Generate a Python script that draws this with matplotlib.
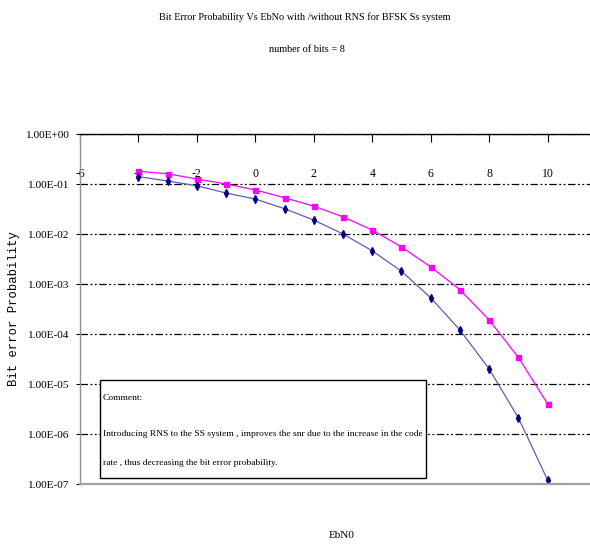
import numpy as np
import matplotlib
matplotlib.use('Agg')
import matplotlib.pyplot as plt
from matplotlib.ticker import FixedLocator, FuncFormatter, NullLocator
from matplotlib.patches import Rectangle

# ── Data ──────────────────────────────────────────────────────────────────────
ebno = [-4, -3, -2, -1, 0, 1, 2, 3, 4, 5, 6, 7, 8, 9, 10]
ber_with_rns = [0.14, 0.115, 0.092, 0.066, 0.050, 0.032, 0.019, 0.010,
                0.0046, 0.0018, 5.3e-4, 1.2e-4, 2.0e-5, 2.1e-6, 1.2e-7]
ber_without_rns = [0.18, 0.16, 0.126, 0.10, 0.076, 0.053, 0.036, 0.022,
                   0.012, 0.0055, 2.2e-3, 7.7e-4, 1.9e-4, 3.4e-5, 4.0e-6]
x_ticks = [-6, -4, -2, 0, 2, 4, 6, 8, 10]
y_ticks = [1e0, 1e-1, 1e-2, 1e-3, 1e-4, 1e-5, 1e-6, 1e-7]

TITLE = 'Bit Error Probability Vs EbNo with /without RNS for BFSK Ss system'
SUBTITLE = 'number of bits = 8'
COMMENT_HEAD = 'Comment:'
COMMENT_BODY = ['Introducing RNS to the SS system , improves the snr due to the increase in the code',
                'rate , thus decreasing the bit error probability.']

SERIF = 'Liberation Serif'

# ── Plot ──────────────────────────────────────────────────────────────────────
fig = plt.figure(figsize=(5.90, 5.44), dpi=100)
ax = fig.add_axes([80/590, 1-484/544, 510/590, 350/544])

ax.plot(ebno, ber_without_rns, color='#ff00ff', lw=0.9, marker='s',
        markersize=3.6, markerfacecolor='#ff00ff', markeredgecolor='#ff00ff')
ax.plot(ebno, ber_with_rns, color='#5c5cb8', lw=0.9, marker='d',
        markersize=4.2, markerfacecolor='#000080', markeredgecolor='#000080')

ax.set_yscale('log')
ax.set_ylim(1e-7, 1e0)
ax.set_xlim(-6, 11.45)

ax.yaxis.set_major_locator(FixedLocator(y_ticks))
ax.yaxis.set_minor_locator(NullLocator())
ax.yaxis.set_major_formatter(FuncFormatter(lambda v, p: f'{v:.2E}'))
ax.xaxis.set_major_locator(FixedLocator(x_ticks))
ax.xaxis.set_major_formatter(FuncFormatter(lambda v, p: f'{v:g}'))

ax.grid(axis='y', color='black', lw=0.9, linestyle=(0, (6, 2, 1.5, 2, 1.5, 2)))

ax.spines['right'].set_visible(False)
ax.spines['top'].set_color('black')
ax.spines['top'].set_linewidth(1.0)
ax.spines['left'].set_color('#909090')
ax.spines['left'].set_linewidth(1.0)
ax.spines['bottom'].set_color('#a0a0a0')
ax.spines['bottom'].set_linewidth(1.6)

ax.tick_params(axis='x', top=True, bottom=False, labeltop=True, labelbottom=False,
               direction='in', length=6, width=0.8, pad=-33, labelsize=8.5)
ax.tick_params(axis='y', direction='out', length=3, width=0.8, color='black',
               pad=5, labelsize=8.2)
for lab in ax.get_xticklabels() + ax.get_yticklabels():
    lab.set_fontfamily(SERIF)

# comment box
ax.add_patch(Rectangle((0.039, 0.018), 0.64, 0.28, transform=ax.transAxes,
                       facecolor='white', edgecolor='black', lw=1.0, zorder=3))
ax.text(0.045, 0.245, COMMENT_HEAD, transform=ax.transAxes, fontsize=6.8,
        family=SERIF, va='center', zorder=4)
ax.text(0.045, 0.143, COMMENT_BODY[0], transform=ax.transAxes, fontsize=6.8,
        family=SERIF, va='center', zorder=4)
ax.text(0.045, 0.06, COMMENT_BODY[1], transform=ax.transAxes, fontsize=6.8,
        family=SERIF, va='center', zorder=4)

fig.text(305/590, 1-17/544, TITLE, ha='center', va='center', fontsize=7.4, family=SERIF)
fig.text(307/590, 1-50/544, SUBTITLE, ha='center', va='center', fontsize=7.4, family=SERIF)
fig.text(14/590, 1-309/544, 'Bit error Probability', rotation=90, ha='center',
         va='center', fontsize=8.8, family='Liberation Mono')
fig.text(342/590, 1-535/544, 'EbN0', ha='center', va='center', fontsize=8, family=SERIF)

fig.savefig('out.png', dpi=100)
